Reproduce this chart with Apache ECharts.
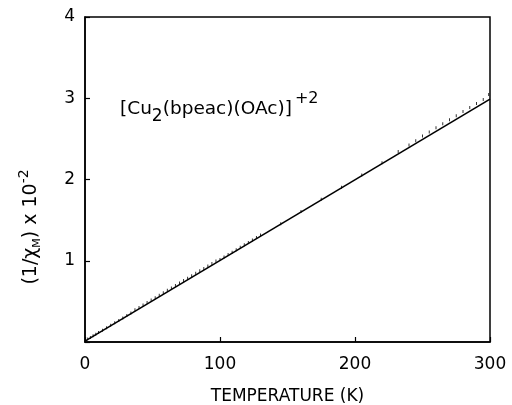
<!DOCTYPE html>
<html>
<head>
<meta charset="utf-8">
<style>
    html, body { margin: 0; padding: 0; background: #fff; }
    #main { width: 512px; height: 405px; }
</style>
</head>
<body>
<div id="main"></div>
<script src="https://cdn.jsdelivr.net/npm/echarts@6/dist/echarts.min.js"></script>
<script>
    // fitted Curie-Weiss line
    var fitT = [0, 300];
    var fitY = [0.01, 2.99];

    // measured points (T in K, 1/chi x 10^-2)
    var dataT = [2, 4, 6, 8, 10, 13, 16, 19, 22, 25, 28, 31, 34, 37, 40, 43, 46, 49, 52, 55, 58,
        61, 64, 67, 70, 73, 76, 79, 82, 85, 88, 91, 94, 97, 100, 103, 106, 109, 112, 115, 118,
        121, 124, 127, 130, 145, 160, 175, 190, 205, 220, 232, 240, 245, 250, 255, 260, 265,
        270, 275, 280, 285, 290, 295, 299];
    var dataY = [0.03, 0.05, 0.07, 0.09, 0.11, 0.14, 0.17, 0.20, 0.23, 0.26, 0.29, 0.32, 0.35,
        0.39, 0.42, 0.45, 0.48, 0.51, 0.54, 0.57, 0.60, 0.63, 0.66, 0.69, 0.72, 0.75, 0.78,
        0.81, 0.84, 0.87, 0.90, 0.93, 0.96, 0.99, 1.01, 1.04, 1.07, 1.10, 1.13, 1.16, 1.19,
        1.22, 1.25, 1.28, 1.31, 1.45, 1.60, 1.75, 1.90, 2.05, 2.20, 2.34, 2.42, 2.47, 2.53,
        2.58, 2.63, 2.68, 2.73, 2.78, 2.83, 2.88, 2.93, 2.98, 3.04];

    var xTicks = [0, 100, 200, 300];
    var yTicks = [1, 2, 3, 4];

    var fitLine = fitT.map(function (t, i) { return [t, fitY[i]]; });
    var points = dataT.map(function (t, i) { return [t, dataY[i]]; });

    var font = 'DejaVu Sans';
    var myChart = echarts.init(document.getElementById('main'));
    myChart.setOption({
        animation: false,
        grid: {
            left: 85, right: 22, top: 17, bottom: 63,
            containLabel: false,
            outerBoundsMode: 'none',
            show: true,
            borderColor: '#000',
            borderWidth: 1.5
        },
        xAxis: {
            type: 'value',
            min: 0, max: 300, interval: 100,
            name: 'TEMPERATURE (K)',
            nameLocation: 'middle',
            nameGap: 46,
            nameTextStyle: { fontFamily: font, fontSize: 17, color: '#000' },
            axisLine: { show: true, lineStyle: { color: '#000', width: 1.5 } },
            axisTick: { show: true, inside: true, length: 5, lineStyle: { color: '#000', width: 1.2 } },
            axisLabel: {
                margin: 14, fontFamily: font, fontSize: 17, color: '#000',
                formatter: function (v) { return xTicks.indexOf(v) >= 0 ? String(v) : ''; }
            },
            splitLine: { show: false }
        },
        yAxis: {
            type: 'value',
            min: 0, max: 4, interval: 1,
            axisLine: { show: true, lineStyle: { color: '#000', width: 1.5 } },
            axisTick: { show: true, inside: true, length: 5, lineStyle: { color: '#000', width: 1.2 } },
            axisLabel: {
                margin: 10, fontFamily: font, fontSize: 17, color: '#000',
                formatter: function (v) { return yTicks.indexOf(v) >= 0 ? String(v) : ''; }
            },
            splitLine: { show: false }
        },
        graphic: [
            {
                type: 'text',
                x: 31, y: 227,
                rotation: Math.PI / 2,
                style: {
                    text: '(1/χ{s|M}) x 10{p|-2}',
                    fontFamily: font, fontSize: 19, fill: '#000',
                    align: 'center', verticalAlign: 'middle',
                    rich: {
                        s: { fontFamily: font, fontSize: 11, fill: '#000', padding: [12, 0, 0, 0] },
                        p: { fontFamily: font, fontSize: 14, fill: '#000', padding: [0, 0, 14, 0] }
                    }
                }
            },
            {
                type: 'text',
                x: 120, y: 109,
                style: {
                    text: '[Cu{s|2}(bpeac)(OAc)]{p|+2}',
                    fontFamily: font, fontSize: 18.5, fill: '#000',
                    align: 'left', verticalAlign: 'middle',
                    rich: {
                        s: { fontFamily: font, fontSize: 17, fill: '#000', padding: [15, 0, 0, 0] },
                        p: { fontFamily: font, fontSize: 16, fill: '#000', padding: [0, 0, 20, 3] }
                    }
                }
            }
        ],
        series: [
            {
                type: 'line',
                data: fitLine,
                symbol: 'none',
                lineStyle: { color: '#000', width: 1.6 }
            },
            {
                type: 'scatter',
                data: points,
                symbol: 'rect',
                symbolSize: [1, 3],
                symbolOffset: [0, -0.5],
                itemStyle: { color: '#000' }
            }
        ]
    });
</script>
</body>
</html>
